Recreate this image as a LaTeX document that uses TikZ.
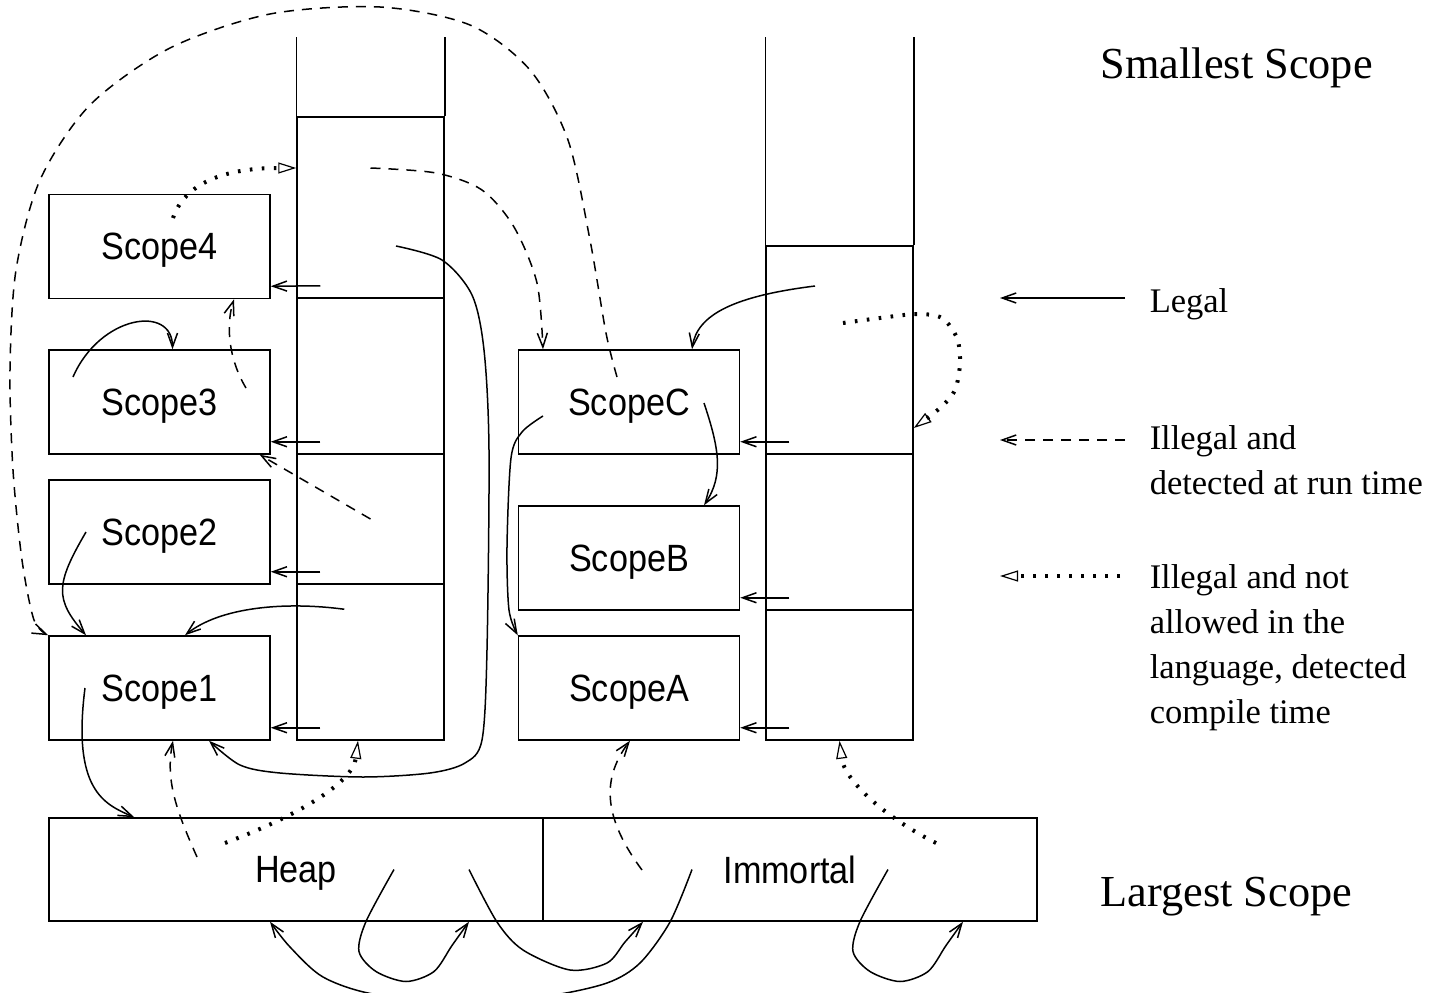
\documentclass[tikz,border=0pt]{standalone}
\usepackage{fontspec}
\usepackage{tikz}
\usetikzlibrary{calc, arrows.meta}
\newfontfamily\scopefont[FakeStretch=0.9]{Liberation Sans}
\newfontfamily\legendfont{Liberation Serif}
\tikzstyle{scope}=[draw, minimum width=221pt, minimum height=104pt, inner sep=0pt, text depth=0pt, font=\scopefont\fontsize{38}{44}\selectfont]
\tikzstyle{area}=[scope, minimum width=494pt, minimum height=103pt]
\tikzstyle{cell}=[draw, minimum width=147pt, inner sep=0pt]
\tikzstyle{legal}=[->]
\tikzstyle{runtime}=[->, dash pattern=on 10pt off 8pt]
\tikzstyle{compile}=[-{Triangle[open, length=18pt, width=11pt, line width=1.2pt]}, line width=4pt, dash pattern=on 2.6pt off 9.4pt]
\tikzstyle{legend}=[anchor=base west, inner sep=0pt, align=left, font=\legendfont\fontsize{34.5}{45}\selectfont]

\begin{document}
\begin{tikzpicture}[x=1pt, y=-1pt, line width=1.5pt, >={Straight Barb[length=14pt, width=10pt]}]
  \useasboundingbox (0,0) rectangle (1436,993);
  \node[scope] (scope4) at (159.5,246.5) {Scope4};
  \node[scope] (scope3) at (159.5,402) {Scope3};
  \node[scope] (scope2) at (159.5,532) {Scope2};
  \node[scope] (scope1) at (159.5,688) {Scope1};
  \node[scope] (scopeC) at (629,402) {ScopeC};
  \node[scope] (scopeB) at (629,558) {ScopeB};
  \node[scope] (scopeA) at (629,688) {ScopeA};
  \node[area] (heap) at (296,869.5) {Heap};
  \node[area] (immortal) at (790,869.5) {Immortal};

  \node[cell, minimum height=181pt] (s1a) at (370.5,207.5) {};
  \node[cell, minimum height=156pt] (s1b) at (370.5,376) {};
  \node[cell, minimum height=130pt] (s1c) at (370.5,519) {};
  \node[cell, minimum height=156pt] (s1d) at (370.5,662) {};
  \draw (s1a.north west) -- ++(0,-79) (s1a.north east) -- ++(0,-79);
  \node[cell, minimum height=208pt] (s2a) at (839.5,350) {};
  \node[cell, minimum height=156pt] (s2b) at (839.5,532) {};
  \node[cell, minimum height=130pt] (s2c) at (839.5,675) {};
  \draw (s2a.north west) -- ++(0,-208) (s2a.north east) -- ++(0,-208);

  \node[font=\legendfont\fontsize{44.3}{50}\selectfont, anchor=base west, inner sep=0pt] (smallest) at (1100,78) {Smallest Scope};
  \node[font=\legendfont\fontsize{44.3}{50}\selectfont, anchor=base west, inner sep=0pt] (largest) at (1100,906) {Largest Scope};
  \node[legend] (legal) at (1149,312) {Legal};
  \node[legend] (runtime) at (1149,494) {Illegal and\\detected at run time};
  \node[legend] (compile) at (1149,723) {Illegal and not\\allowed in the\\language, detected\\compile time};
  \coordinate (leg1) at (1125,298); \coordinate (leg1tip) at (1000,298);
  \coordinate (leg2) at (1125,440); \coordinate (leg2tip) at (1000,440);
  \coordinate (leg3) at (1120,576); \coordinate (leg3tip) at (1000,576);
  \draw[legal] (leg1) -- (leg1tip);
  \draw[runtime] (leg2) -- (leg2tip);
  \draw[compile] (leg3) -- (leg3tip);

  \foreach \stk/\scp in {s1a/scope4, s1b/scope3, s1c/scope2, s1d/scope1, s2a/scopeC, s2b/scopeB, s2c/scopeA}
    \draw[legal] ([shift={(24,-13)}]\stk.south west) -- ([shift={(0,-13)}]\scp.south east);
  \foreach \ar in {heap, immortal}
    \draw[legal] plot[smooth] coordinates {([shift={(98,0)}]\ar.center) ([shift={(70,52)}]\ar.center) ([shift={(63,82)}]\ar.center) ([shift={(80,102)}]\ar.center) ([shift={(110,112)}]\ar.center) ([shift={(138,102)}]\ar.center) ([shift={(156,76)}]\ar.center) ([xshift=173pt]\ar.south)};

  \draw[legal] ([shift={(-86.5,-25)}]scope3.center) .. controls +(27,-62) and +(0,-45) .. ([xshift=13pt]scope3.north);
  \draw[legal] ([xshift=-73.5pt]scope2.center) .. controls +(-31,53) and +(-31,-36) .. ([xshift=-73.5pt]scope1.north);
  \draw[legal] ([shift={(48,26)}]s1d.north west) .. controls +(-60,-8) and +(35,-28) .. ([xshift=25.5pt]scope1.north);
  \draw[legal] ([xshift=-74.5pt]scope1.center) .. controls +(-13,102) and +(-30,-13) .. ([xshift=86pt]heap.north west);
  \draw[legal] plot[smooth] coordinates {([shift={(25.5,38.5)}]s1a.center) (442,260) (472,295) (484,350) (489,450) (487,650) (482,740) (465,763) (430,773) (363,777) (280,773) (240,765) ([xshift=49.5pt]scope1.south)};
  \draw[legal] ([shift={(-24.5,-64)}]s2a.center) .. controls +(-80,10) and +(5,-35) .. ([xshift=63pt]scopeC.north);
  \draw[legal] ([shift={(75,1)}]scopeC.center) .. controls +(15,45) and +(20,-30) .. ([xshift=75pt]scopeB.north);
  \draw[legal] plot[smooth] coordinates {([shift={(-86,14)}]scopeC.center) (522,432) (511,458) (507,547) (509,610) (scopeA.north west)};
  \draw[legal] plot[smooth] coordinates {([shift={(173,0)}]heap.center) (497,922) (523,950) (570,970) (607,963) (625,942) ([xshift=-147pt]immortal.south)};
  \draw[legal] plot[smooth] coordinates {([shift={(-98,0)}]immortal.center) (670,922) (640,963) (607,983) (547,996) (460,1002) (373,994) (323,977) (290,947) ([xshift=-26pt]heap.south)};

  \draw[runtime] plot[smooth] coordinates {([shift={(-12,-25)}]scopeC.center) (606,333) (590,240) (568,140) (530,70) (470,25) (380,7) (270,14) (170,48) (90,105) (40,180) (16,270) (10,370) (13,470) (22,560) (34,620) (scope1.north west)};
  \draw[runtime] plot[smooth] coordinates {([yshift=39.5pt]s1a.center) (436,173) (482,190) (514,227) (537,283) ([xshift=-86pt]scopeC.north)};
  \draw[runtime] ([shift={(86.5,-14)}]scope3.center) .. controls +(-18,-30) and +(-8,25) .. ([xshift=74.5pt]scope4.south);
  \draw[runtime] (s1c.center) -- ([xshift=-11pt]scope3.south east);
  \draw[runtime] ([shift={(-99,-12.5)}]heap.center) .. controls +(-20,-45) and +(-8,40) .. ([xshift=13.5pt]scope1.south);
  \draw[runtime] ([shift={(-148,0.5)}]immortal.center) .. controls +(-37,-50) and +(-30,40) .. ([xshift=1pt]scopeA.south);

  \draw[compile] ([shift={(13.5,-28.5)}]scope4.center) .. controls +(10,-30) and +(-80,0) .. ([yshift=39.5pt]s1a.west);
  \draw[compile] ([shift={(-71,-26.5)}]heap.center) .. controls +(80,-30) and +(-5,40) .. ([xshift=-12.5pt]s1d.south);
  \draw[compile] plot[smooth] coordinates {([shift={(3.5,-27)}]s2a.center) (880,318) (917,314) (942,318) (957,338) (960,363) (955,390) (940,408) ([yshift=-78pt]s2a.east)};
  \draw[compile] ([shift={(146,-26.5)}]immortal.center) .. controls +(-50,-25) and +(5,40) .. (s2c.south);
\end{tikzpicture}
\end{document}
